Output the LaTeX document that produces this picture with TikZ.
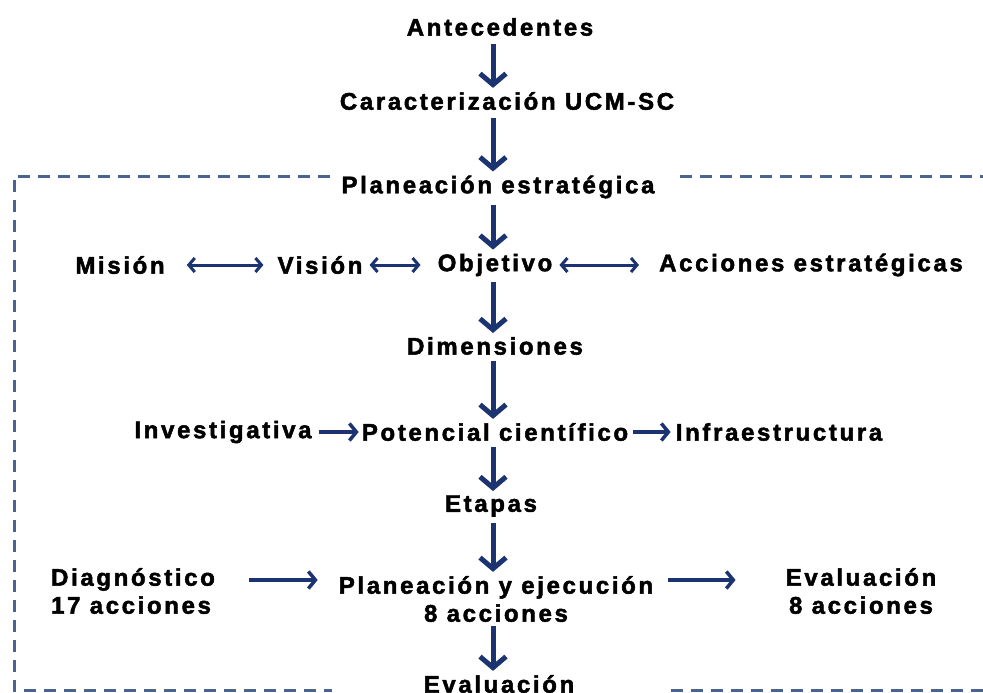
\documentclass[tikz,border=0pt]{standalone}
\usepackage{fontspec}
\setmainfont{Liberation Sans}[LetterSpace=11,FakeBold=2]
\usetikzlibrary{arrows.meta}
\definecolor{navy}{HTML}{1B3370}
\definecolor{frame}{HTML}{4A6490}
\begin{document}
\begin{tikzpicture}[x=1pt,y=-1pt,
  lbl/.style={inner sep=2pt,font=\bfseries\fontsize{24}{28}\selectfont,align=center},
  down/.style={draw=navy,line width=5pt,-{Straight Barb[length=11pt,width=26pt]}},
  side/.style={draw=navy,line width=3.5pt,-{Straight Barb[length=7pt,width=17pt]}},
  both/.style={draw=navy,line width=3pt,{Straight Barb[length=6pt,width=14pt]}-{Straight Barb[length=6pt,width=14pt]}},
  framel/.style={draw=frame,line width=3pt,dash pattern=on 12pt off 8pt}]
\useasboundingbox (0,0) rectangle (983,693);
\coordinate (axis) at (493,0);
% frame
\draw[framel] (330,176) -- (14,176) -- (14,690) -- (332,690);
\draw[framel] (680,176) -- (990,176);
\draw[framel] (671,690) -- (990,690);
% nodes
\node[lbl] (ant) at (500,27) {Antecedentes};
\node[lbl] (car) at (507,101) {Caracterización UCM-SC};
\node[lbl] (pla) at (498,187) {Planeación estratégica};
\node[lbl] (mis) at (120,265) {Misión};
\node[lbl] (vis) at (320,265) {Visión};
\node[lbl] (obj) at (495,265) {Objetivo};
\node[lbl] (acc) at (811,265) {Acciones estratégicas};
\node[lbl] (dim) at (495,346) {Dimensiones};
\node[lbl] (inv) at (223,432) {Investigativa};
\node[lbl] (pot) at (495,432) {Potencial científico};
\node[lbl] (inf) at (779,432) {Infraestructura};
\node[lbl] (eta) at (491,506) {Etapas};
\node[lbl,align=left] (dia) at (133,591) {Diagnóstico\\17 acciones};
\node[lbl] (pye) at (496,599) {Planeación y ejecución\\8 acciones};
\node[lbl] (eva) at (861,591) {Evaluación\\8 acciones};
\node[lbl] (evf) at (499,684) {Evaluación};
% vertical arrows
\draw[down,shorten <=6pt,shorten >=2pt] (ant.south -| axis) -- (car.north -| axis);
\draw[down,shorten <=6pt,shorten >=2pt] (car.south -| axis) -- (pla.north -| axis);
\draw[down,shorten <=4pt,shorten >=2pt] (pla.south -| axis) -- (obj.north -| axis);
\draw[down,shorten <=4pt,shorten >=2pt] (obj.south -| axis) -- (dim.north -| axis);
\draw[down,shorten <=4pt,shorten >=2pt] (dim.south -| axis) -- (pot.north -| axis);
\draw[down,shorten <=4pt,shorten >=2pt] (pot.south -| axis) -- (eta.north -| axis);
\draw[down,shorten <=4pt,shorten >=2pt] (eta.south -| axis) -- (pye.north -| axis);
\draw[down,shorten <=2pt,shorten >=2pt] (pye.south -| axis) -- (evf.north -| axis);
% horizontal arrows
\draw[both,shorten <=20pt,shorten >=12pt] (mis.east) -- (vis.west);
\draw[both,shorten <=5pt,shorten >=15pt] (vis.east) -- (obj.west);
\draw[both,shorten <=5pt,shorten >=18pt] (obj.east) -- (acc.west);
\draw[side,shorten <=5pt,shorten >=1pt] (inv.east) -- (pot.west |- inv.east);
\draw[side,shorten <=3pt,shorten >=3pt] (pot.east) -- (inf.west |- pot.east);
\draw[side,shorten <=32pt,shorten >=19pt] ([yshift=11pt]dia.east) -- ([yshift=11pt]dia.east -| pye.west);
\draw[side,shorten <=13pt,shorten >=48pt] ([yshift=19pt]pye.east) -- ([yshift=19pt]pye.east -| eva.west);
\end{tikzpicture}
\end{document}
